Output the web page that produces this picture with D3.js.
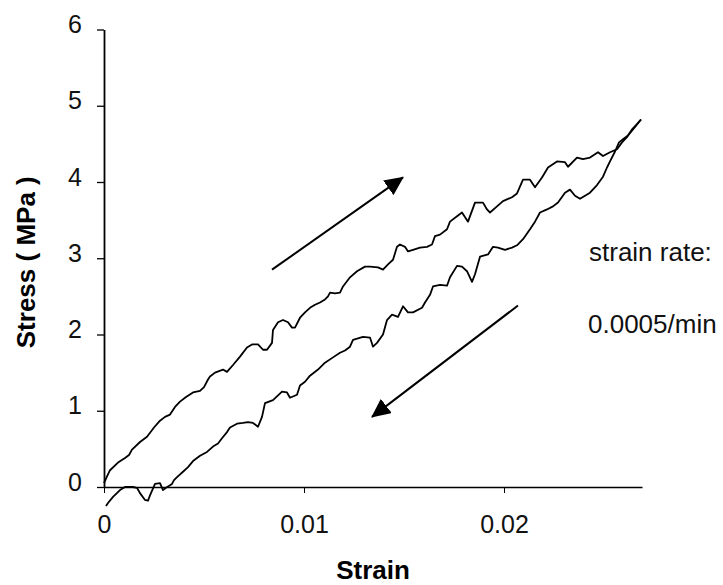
<!DOCTYPE html>
<html>
<head>
<meta charset="utf-8">
<script src="https://cdn.jsdelivr.net/npm/d3@7"></script>
<style>
  html, body { margin: 0; padding: 0; background: #fff; }
  #chart svg { display: block; }
</style>
</head>
<body>
<div id="chart"></div>
<script>
// Stress-strain loop: loading (upper) and unloading (lower) branches

const loadStrain = [0, 0.00015, 0.0003, 0.0007, 0.00105, 0.00125, 0.0014, 0.0018, 0.00215, 0.0025,
  0.0028, 0.00305, 0.0033, 0.00355, 0.0038, 0.0041, 0.00445, 0.0048, 0.005, 0.0052,
  0.0053, 0.00555, 0.00595, 0.00615, 0.00645, 0.0068, 0.00715, 0.0074, 0.0077, 0.00795,
  0.00815, 0.0084, 0.00845, 0.0087, 0.00895, 0.0092, 0.0094, 0.00955, 0.0098, 0.01005,
  0.0103, 0.01055, 0.0108, 0.01105, 0.0112, 0.0113, 0.01155, 0.0118, 0.01195, 0.0123,
  0.01265, 0.01305, 0.0133, 0.0137, 0.01395, 0.0142, 0.01445, 0.01465, 0.0148, 0.01505,
  0.0152, 0.01545, 0.0158, 0.01615, 0.0164, 0.01655, 0.0168, 0.01715, 0.0173, 0.01765,
  0.0179, 0.0182, 0.01855, 0.01895, 0.01915, 0.0193, 0.01965, 0.01995, 0.0204, 0.02065,
  0.02095, 0.0213, 0.02155, 0.0219, 0.0222, 0.02265, 0.02305, 0.0232, 0.02365, 0.02395,
  0.0243, 0.0247, 0.02495, 0.0253, 0.02565, 0.0259, 0.02615, 0.0264, 0.02665, 0.02685];
const loadStress = [0.05, 0.14, 0.22, 0.32, 0.38, 0.42, 0.49, 0.59, 0.66, 0.78,
  0.87, 0.92, 0.95, 1.05, 1.12, 1.18, 1.24, 1.26, 1.31, 1.41,
  1.45, 1.50, 1.54, 1.51, 1.60, 1.71, 1.83, 1.87, 1.87, 1.80,
  1.80, 1.89, 2.06, 2.16, 2.19, 2.16, 2.09, 2.09, 2.22, 2.29,
  2.35, 2.39, 2.42, 2.46, 2.50, 2.55, 2.54, 2.55, 2.63, 2.75,
  2.83, 2.89, 2.89, 2.88, 2.85, 2.92, 2.98, 3.15, 3.18, 3.15,
  3.09, 3.11, 3.14, 3.15, 3.18, 3.29, 3.31, 3.38, 3.48, 3.55,
  3.60, 3.48, 3.73, 3.73, 3.64, 3.60, 3.68, 3.75, 3.80, 3.85,
  4.03, 4.03, 3.93, 4.06, 4.19, 4.27, 4.26, 4.20, 4.32, 4.30,
  4.32, 4.39, 4.34, 4.39, 4.43, 4.52, 4.59, 4.69, 4.76, 4.82];

const unloadStrain = [0.0001, 0.0002, 0.00045, 0.0008, 0.00105, 0.00145, 0.00165, 0.0018, 0.00205, 0.0022,
  0.0023, 0.00255, 0.0028, 0.00295, 0.0031, 0.0034, 0.0035, 0.00365, 0.00395, 0.0042,
  0.00445, 0.0048, 0.00515, 0.00545, 0.0057, 0.0059, 0.00615, 0.0063, 0.00665, 0.00695,
  0.0072, 0.00745, 0.0077, 0.0079, 0.00805, 0.00845, 0.0089, 0.00915, 0.0093, 0.00965,
  0.0098, 0.01005, 0.0103, 0.0107, 0.01105, 0.01145, 0.0118, 0.01205, 0.0123, 0.01245,
  0.01295, 0.0133, 0.01345, 0.01365, 0.01395, 0.01415, 0.0144, 0.0147, 0.01495, 0.0152,
  0.01545, 0.0159, 0.01605, 0.0163, 0.01645, 0.0168, 0.01715, 0.0173, 0.01765, 0.0179,
  0.01815, 0.0184, 0.01855, 0.0188, 0.0192, 0.01945, 0.0197, 0.02005, 0.0204, 0.02065,
  0.02095, 0.0213, 0.02155, 0.0218, 0.02215, 0.02245, 0.0227, 0.02305, 0.0233, 0.02355,
  0.0238, 0.02405, 0.0243, 0.02465, 0.02495, 0.02515, 0.0253, 0.02555, 0.02575, 0.02595,
  0.0262, 0.02645, 0.0267, 0.02685];
const unloadStress = [-0.25, -0.21, -0.13, -0.04, 0.0, 0.0, -0.01, -0.08, -0.17, -0.18,
  -0.11, 0.04, 0.05, -0.04, -0.01, 0.04, 0.09, 0.13, 0.20, 0.26,
  0.34, 0.41, 0.46, 0.53, 0.57, 0.64, 0.72, 0.78, 0.83, 0.84,
  0.85, 0.84, 0.79, 0.92, 1.10, 1.14, 1.25, 1.24, 1.17, 1.21,
  1.33, 1.38, 1.46, 1.54, 1.63, 1.70, 1.76, 1.79, 1.84, 1.93,
  1.97, 1.96, 1.84, 1.89, 2.00, 2.19, 2.26, 2.23, 2.37, 2.29,
  2.29, 2.35, 2.42, 2.52, 2.63, 2.65, 2.64, 2.75, 2.90, 2.89,
  2.83, 2.69, 2.79, 3.02, 3.05, 3.15, 3.14, 3.11, 3.14, 3.17,
  3.25, 3.38, 3.48, 3.60, 3.64, 3.68, 3.73, 3.86, 3.90, 3.82,
  3.78, 3.82, 3.86, 3.96, 4.07, 4.19, 4.27, 4.40, 4.52, 4.56,
  4.61, 4.69, 4.77, 4.82];

const xTicks = [0, 0.01, 0.02];
const yTicks = [0, 1, 2, 3, 4, 5, 6];

// direction arrows, [strain, stress] start -> end
const arrowUp = [[0.0084, 2.85], [0.01495, 4.06]];
const arrowDown = [[0.0207, 2.38], [0.0134, 0.92]];

function drawLoop() {
  const width = 723, height = 585;
  const margin = { top: 29.5, right: 81, bottom: 98, left: 104 };
  const innerWidth = width - margin.left - margin.right;
  const innerHeight = height - margin.top - margin.bottom;
  const font = "'Liberation Sans', Arial, sans-serif";

  const svg = d3.select("#chart").append("svg")
    .attr("width", width)
    .attr("height", height);

  // filled arrow head, ~19px long and 18px wide at stroke 2
  svg.append("defs").append("marker")
    .attr("id", "head")
    .attr("viewBox", "0 0 19 18")
    .attr("refX", 18).attr("refY", 9)
    .attr("markerWidth", 9.5).attr("markerHeight", 9)
    .attr("markerUnits", "strokeWidth")
    .attr("orient", "auto")
    .append("path")
      .attr("d", "M0,0 L19,9 L0,18 Z")
      .attr("fill", "#000");

  const chart = svg.append("g").attr("transform", `translate(${margin.left},${margin.top})`);

  const x = d3.scaleLinear().domain([0, 0.0269]).range([0, innerWidth]);
  const y = d3.scaleLinear().domain([0, 6]).range([innerHeight, 0]);

  // axes
  const xAxis = d3.axisBottom(x).tickValues(xTicks).tickSize(6).tickSizeOuter(0)
    .tickFormat(d => d === 0 ? "0" : d3.format(".2f")(d));
  const yAxis = d3.axisLeft(y).tickValues(yTicks).tickSize(7).tickSizeOuter(0)
    .tickFormat(d3.format("d"));

  const gx = chart.append("g")
    .attr("transform", `translate(0,${innerHeight})`)
    .call(xAxis);
  gx.select(".domain").attr("stroke-width", 1.5);
  gx.selectAll(".tick line").attr("stroke-width", 1);
  gx.selectAll(".tick text")
    .attr("font-family", font).attr("font-size", 25).attr("fill", "#111")
    .attr("y", 46).attr("dy", 0);

  const gy = chart.append("g").call(yAxis);
  gy.select(".domain").attr("stroke-width", 1.8);
  gy.selectAll(".tick line").attr("stroke-width", 1.3);
  gy.selectAll(".tick text")
    .attr("font-family", font).attr("font-size", 25).attr("fill", "#111")
    .attr("x", -22).attr("dy", "0.32em").attr("y", -5);

  // curves
  const line = d3.line().x(d => x(d[0])).y(d => y(d[1]));
  const loading = loadStrain.map((s, i) => [s, loadStress[i]]);
  const unloading = unloadStrain.map((s, i) => [s, unloadStress[i]]);

  [loading, unloading].forEach(pts => {
    chart.append("path")
      .datum(pts)
      .attr("fill", "none")
      .attr("stroke", "#000")
      .attr("stroke-width", 1.8)
      .attr("stroke-linejoin", "round")
      .attr("d", line);
  });

  // arrows
  [arrowUp, arrowDown].forEach(a => {
    chart.append("line")
      .attr("x1", x(a[0][0])).attr("y1", y(a[0][1]))
      .attr("x2", x(a[1][0])).attr("y2", y(a[1][1]))
      .attr("stroke", "#000")
      .attr("stroke-width", 2)
      .attr("marker-end", "url(#head)");
  });

  // annotation
  svg.append("text")
    .attr("x", 589).attr("y", 261)
    .attr("font-family", font).attr("font-size", 26).attr("fill", "#111")
    .text("strain rate:");
  svg.append("text")
    .attr("x", 588).attr("y", 333)
    .attr("font-family", font).attr("font-size", 26).attr("fill", "#111")
    .text("0.0005/min");

  // axis titles
  svg.append("text")
    .attr("x", margin.left + innerWidth / 2)
    .attr("y", 579)
    .attr("text-anchor", "middle")
    .attr("font-family", font).attr("font-size", 26).attr("font-weight", 700)
    .text("Strain");

  svg.append("text")
    .attr("transform", `translate(35, ${margin.top + innerHeight / 2 + 4}) rotate(-90)`)
    .attr("text-anchor", "middle")
    .attr("font-family", font).attr("font-size", 26).attr("font-weight", 700)
    .text("Stress ( MPa )");
}

drawLoop();
</script>
</body>
</html>
